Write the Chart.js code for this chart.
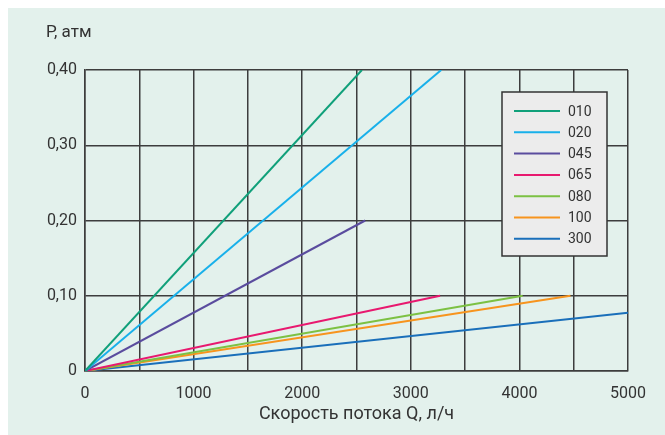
<!DOCTYPE html>
<html>
<head>
<meta charset="utf-8">
<script src="https://cdn.jsdelivr.net/npm/chart.js@4/dist/chart.umd.min.js"></script>
<style>
  html, body { margin: 0; padding: 0; background: #fff; }
  #wrap { position: relative; width: 665px; height: 435px; }
</style>
</head>
<body>
<div id="wrap"><canvas id="chart" width="665" height="435"></canvas></div>
<script>
// model names from the legend
const models = ['010', '020', '045', '065', '080', '100', '300'];
// each line runs from the origin to the end point
const startFlow = [0, 0, 0, 0, 0, 0, 0];
const startPressure = [0, 0, 0, 0, 0, 0, 0];
const endFlow = [2550, 3280, 2580, 3270, 4030, 4470, 5000];
const endPressure = [0.40, 0.40, 0.20, 0.10, 0.10, 0.10, 0.0775];
const lineColors = ['#10a07a', '#18b0ea', '#5a4c9e', '#e8196f', '#7cc143', '#f7941e', '#1a6fba'];

const xTitle = 'Скорость потока Q, л/ч';
const yTitle = 'P, атм';

const fontFamily = 'Roboto, "Open Sans", sans-serif';
const gridColor = '#3d3d3d';

const datasets = models.map((name, i) => ({
    label: name,
    data: [
        { x: startFlow[i], y: startPressure[i] },
        { x: endFlow[i], y: endPressure[i] }
    ],
    borderColor: lineColors[i],
    backgroundColor: lineColors[i],
    borderWidth: 2,
    pointRadius: 0,
    showLine: true,
    fill: false
}));

// mint panel + y title
const backdrop = {
    id: 'backdrop',
    beforeDraw(chart) {
        const ctx = chart.ctx;
        ctx.save();
        ctx.fillStyle = '#e3f1ec';
        ctx.fillRect(8, 8, chart.width - 8, chart.height - 8);
        ctx.fillStyle = '#333';
        ctx.font = '17px ' + fontFamily;
        ctx.textBaseline = 'middle';
        ctx.fillText(yTitle, 46, 33);
        ctx.restore();
    }
};

// boxed legend sitting inside the plot
const boxLegend = {
    id: 'boxLegend',
    afterDraw(chart) {
        const ctx = chart.ctx;
        const x0 = 502, y0 = 92, w = 105, h = 164;
        ctx.save();
        ctx.fillStyle = '#ececec';
        ctx.fillRect(x0, y0, w, h);
        ctx.strokeStyle = '#333';
        ctx.lineWidth = 1.5;
        ctx.strokeRect(x0, y0, w, h);
        ctx.font = '14px ' + fontFamily;
        ctx.textBaseline = 'middle';
        chart.data.datasets.forEach((ds, i) => {
            const y = y0 + 19 + i * 21.3;
            ctx.strokeStyle = ds.borderColor;
            ctx.lineWidth = 2;
            ctx.beginPath();
            ctx.moveTo(x0 + 12, y);
            ctx.lineTo(x0 + 58, y);
            ctx.stroke();
            ctx.fillStyle = '#333';
            ctx.fillText(ds.label, x0 + 66, y + 1);
        });
        ctx.restore();
    }
};

new Chart(document.getElementById('chart'), {
    type: 'scatter',
    data: { datasets: datasets },
    plugins: [backdrop, boxLegend],
    options: {
        responsive: false,
        animation: false,
        layout: { padding: { top: 70, right: 37, left: 0, bottom: 6 } },
        plugins: { legend: { display: false }, tooltip: { enabled: false } },
        scales: {
            x: {
                type: 'linear',
                min: 0,
                max: 5000,
                afterFit: s => { s.height = 58; },
                ticks: {
                    stepSize: 500,
                    autoSkip: false,
                    maxRotation: 0,
                    padding: 13,
                    color: '#333',
                    font: { family: fontFamily, size: 16 },
                    callback: v => (v % 1000 === 0 ? String(v) : '')
                },
                grid: { color: gridColor, lineWidth: 1.5, drawTicks: false },
                border: { color: gridColor, width: 1.5 },
                title: {
                    display: true,
                    text: xTitle,
                    color: '#333',
                    font: { family: fontFamily, size: 18 },
                    padding: { top: 0, bottom: 4 }
                }
            },
            y: {
                min: 0,
                max: 0.4,
                afterFit: s => { s.width = 85; },
                ticks: {
                    stepSize: 0.1,
                    padding: 8,
                    color: '#333',
                    font: { family: fontFamily, size: 16 },
                    callback: v => (v === 0 ? '0' : v.toFixed(2).replace('.', ','))
                },
                grid: { color: gridColor, lineWidth: 1.5, drawTicks: false },
                border: { color: gridColor, width: 1.5 }
            }
        }
    }
});
</script>
</body>
</html>
